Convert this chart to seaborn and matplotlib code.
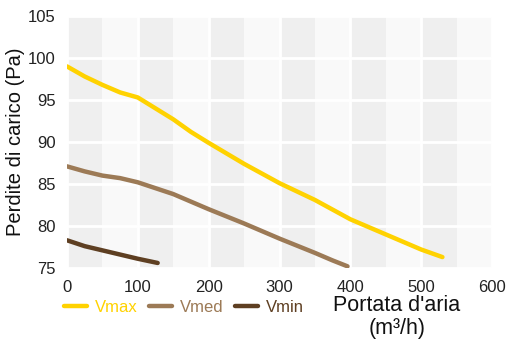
import numpy as np
import pandas as pd
import matplotlib
matplotlib.use("Agg")
import matplotlib.pyplot as plt
import seaborn as sns

# Pressure drop curves for the three fan speeds
vmax_x = [0, 25, 50, 75, 100, 125, 150, 175, 200, 250, 300, 350, 400, 450, 500, 530]
vmax_y = [99.0, 97.8, 96.8, 95.9, 95.3, 94.0, 92.7, 91.2, 89.9, 87.4, 85.1, 83.1, 80.8, 79.0, 77.2, 76.3]

vmed_x = [0, 25, 50, 75, 100, 150, 200, 250, 300, 350, 375, 396]
vmed_y = [87.1, 86.5, 86.0, 85.7, 85.2, 83.8, 82.0, 80.3, 78.5, 76.8, 75.9, 75.2]

vmin_x = [0, 25, 50, 75, 100, 128]
vmin_y = [78.3, 77.6, 77.1, 76.6, 76.1, 75.6]

series_names = ["Vmax", "Vmed", "Vmin"]
series_colors = ["#FFD200", "#9C7A56", "#5E3F22"]

x_ticks = [0, 100, 200, 300, 400, 500, 600]
y_ticks = [75, 80, 85, 90, 95, 100, 105]

df = pd.concat([
    pd.DataFrame({"portata": vmax_x, "perdite": vmax_y, "serie": "Vmax"}),
    pd.DataFrame({"portata": vmed_x, "perdite": vmed_y, "serie": "Vmed"}),
    pd.DataFrame({"portata": vmin_x, "perdite": vmin_y, "serie": "Vmin"}),
], ignore_index=True)

sns.set_theme(style="white")
plt.rcParams["font.family"] = ["Liberation Sans", "DejaVu Sans"]

fig = plt.figure(figsize=(5.07, 3.40), dpi=100)
ax = fig.add_axes([67 / 507, 1 - 268 / 340, (492 - 67) / 507, (268 - 16) / 340])

# Banded background: light base, darker first half of every 100 interval
ax.set_facecolor("#f9f9f9")
for start in range(0, 600, 100):
    ax.axvspan(start, start + 50, color="#efefef", lw=0, zorder=0)

sns.lineplot(data=df, x="portata", y="perdite", hue="serie",
             hue_order=series_names, palette=series_colors,
             linewidth=3.2, ax=ax, legend=False, sort=False,
             solid_capstyle="round", solid_joinstyle="round", zorder=3)

ax.set_xlim(0, 600)
ax.set_ylim(75, 105)
ax.set_xticks(x_ticks)
ax.set_yticks(y_ticks)
ax.grid(True, color="white", linewidth=2.0, zorder=1)
ax.set_axisbelow(True)
for s in ax.spines.values():
    s.set_visible(False)
ax.tick_params(axis="both", length=0, labelsize=12, labelcolor="#222222")
ax.tick_params(axis="x", pad=9)
ax.tick_params(axis="y", pad=8)

ax.set_xlabel("")
ax.set_ylabel("Perdite di carico (Pa)", fontsize=14.5, color="#111111")
ax.yaxis.set_label_coords(-0.098, 0.5)

fig.text(397 / 507, 1 - 317 / 340, "Portata d'aria\n(m³/h)", ha="center", va="center",
         fontsize=15.5, color="#111111", linespacing=1.1)

handles = [plt.Line2D([0], [0], color=c, lw=3.2, solid_capstyle="round") for c in series_colors]
leg = fig.legend(handles, series_names, loc="center left",
                 bbox_to_anchor=(64 / 507, 1 - 307 / 340), ncol=3, frameon=False,
                 fontsize=12, handlelength=1.35, handletextpad=0.5, columnspacing=0.7,
                 borderaxespad=0, borderpad=0)
for txt, c in zip(leg.get_texts(), series_colors):
    txt.set_color(c)

fig.savefig("out.png", dpi=100, facecolor="white")
